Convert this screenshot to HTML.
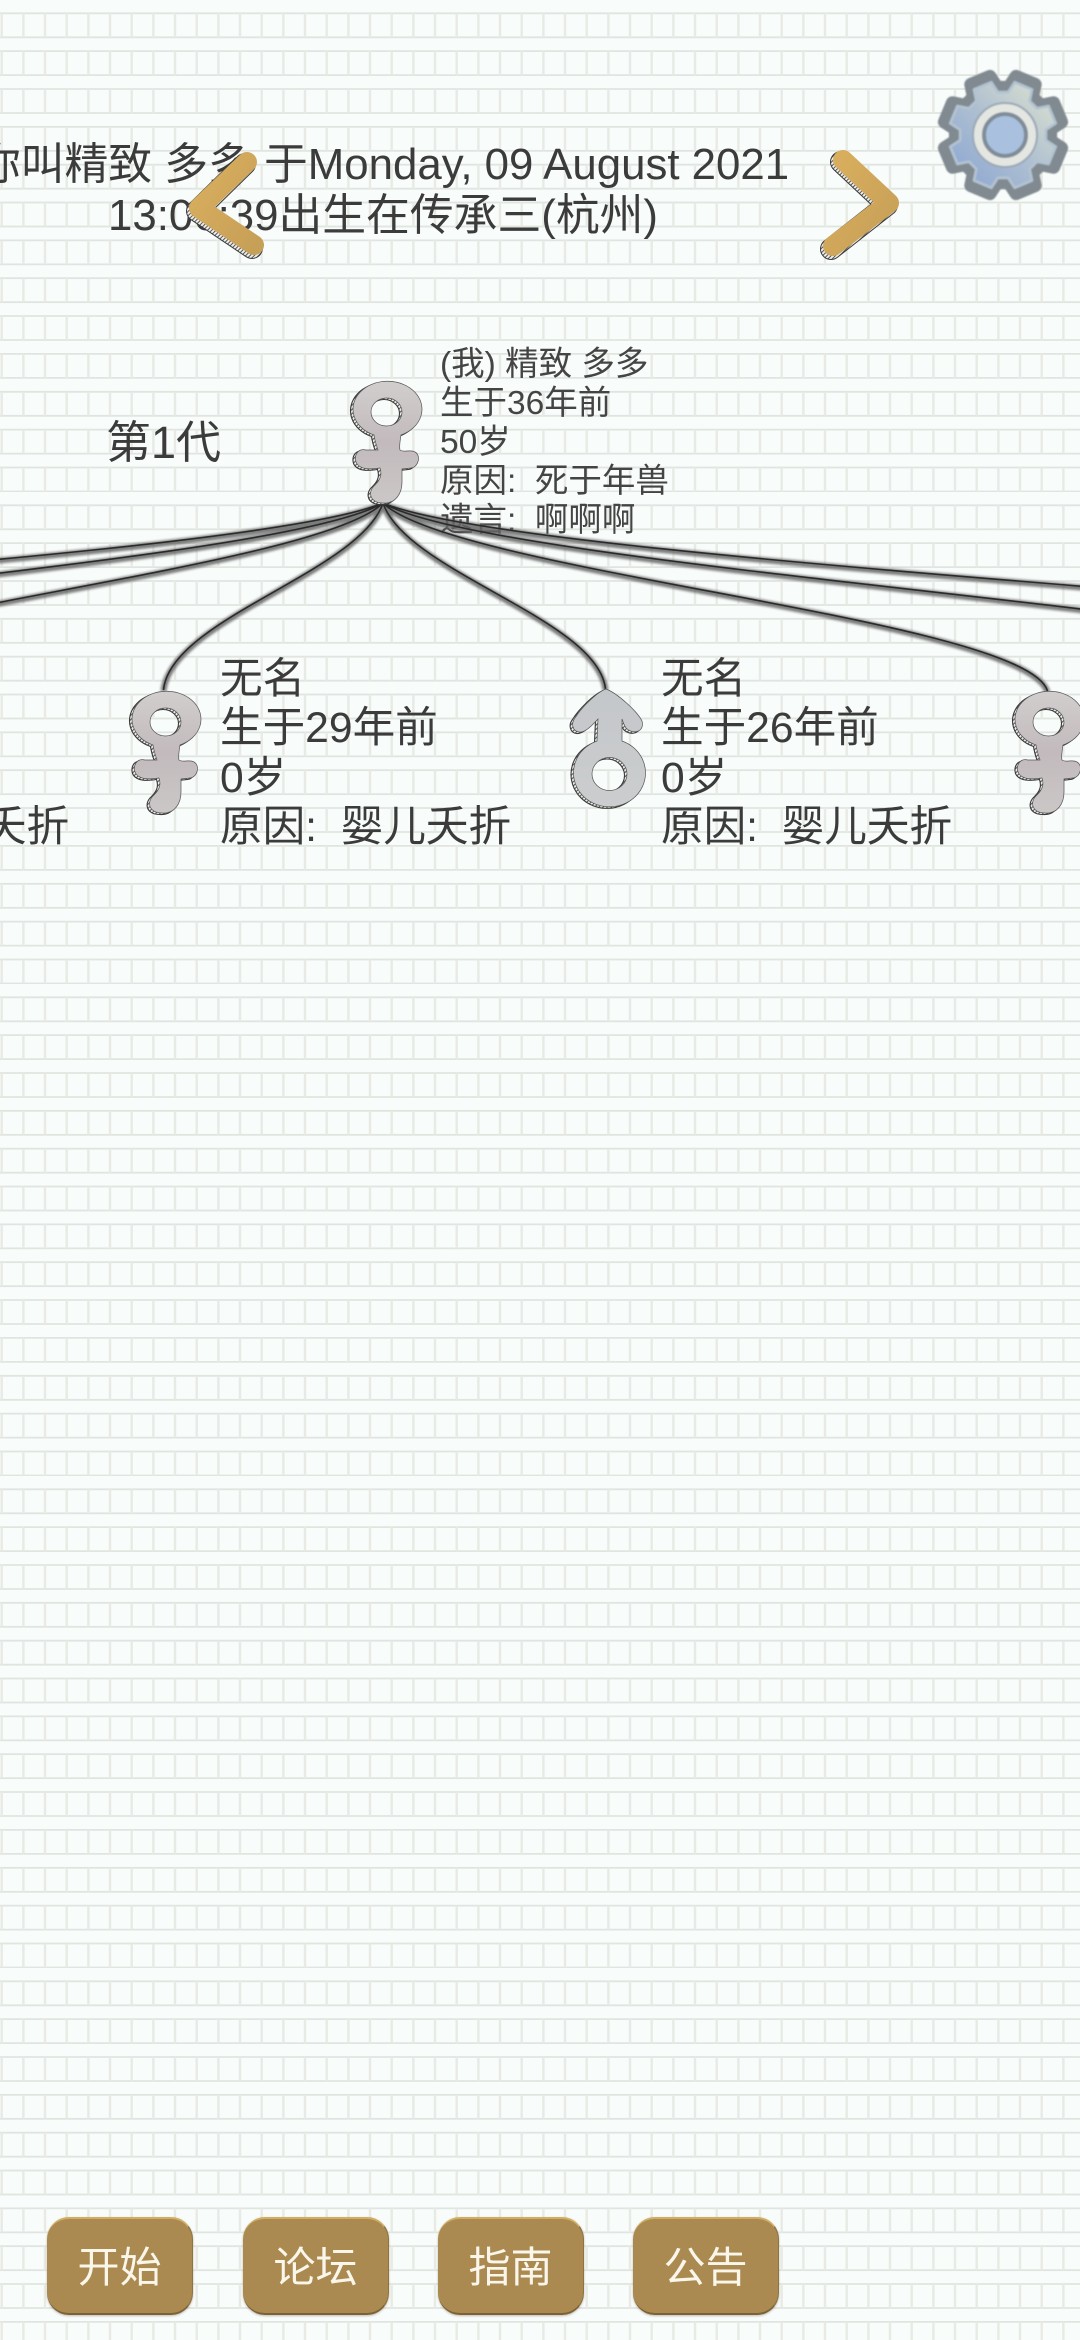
<!DOCTYPE html>
<html lang="zh"><head><meta charset="utf-8"><title>传承</title>
<style>
html,body{margin:0;padding:0;background:#f8fcfb}
#p{position:relative;width:1080px;height:2340px;overflow:hidden;background:#f8fcfb;font-family:"Liberation Sans","Noto Sans CJK SC",sans-serif;color:#3b3b3b}
svg.l{position:absolute;left:0;top:0}
.t{position:absolute;white-space:pre}
.h{left:-117px;width:1000px;text-align:center;font-size:43.8px;line-height:51px;top:139px}
.n{font-size:42.6px;line-height:49.3px;top:655px}
.r{font-size:33.5px;line-height:39px;left:440px;top:345px;color:#444}
.b{position:absolute;top:2217px;width:146px;height:98px;box-sizing:border-box;border-radius:22px;background:#aa8a51;border-top:2px solid #d2ae62;border-bottom:2px solid #7c6236;border-right:1px solid #8f7440;color:#faf6ea;font-size:42px;line-height:97px;text-align:center;box-shadow:0 1px 2px rgba(90,70,40,.35)}
</style></head><body><div id="p">
<svg class="l" width="1080" height="2340"><defs>
<g id="row"><path d="M0 0H65M0 24H65" stroke="#e1e5df" stroke-width="1.8" fill="none"/><path d="M1.7 0V24M23.4 0V24M45 0V24" stroke="#e8eae4" stroke-width="2.4" fill="none"/></g>
<pattern id="g" patternUnits="userSpaceOnUse" width="65" height="492">
<use href="#row" y="13.3"/><use href="#row" y="51.1"/><use href="#row" y="89"/><use href="#row" y="126.8"/><use href="#row" y="164.7"/><use href="#row" y="202.5"/><use href="#row" y="240.4"/><use href="#row" y="278.2"/><use href="#row" y="316"/><use href="#row" y="353.9"/><use href="#row" y="391.8"/><use href="#row" y="429.6"/><use href="#row" y="467.5"/>
</pattern></defs><rect width="1080" height="2340" fill="url(#g)"/></svg>
<div class="t h">你叫精致 多多 于Monday, 09 August 2021
13:06:39出生在传承三(杭州)</div>
<div class="t" style="left:106px;top:417px;font-size:45px;line-height:52px">第1代</div>
<div class="t r">(我) 精致 多多
生于36年前
50岁
原因:  死于年兽
遗言:  啊啊啊</div>
<div class="t n" style="left:-222px">无名
生于30年前
0岁
原因:  婴儿夭折</div>
<div class="t n" style="left:220px">无名
生于29年前
0岁
原因:  婴儿夭折</div>
<div class="t n" style="left:661px">无名
生于26年前
0岁
原因:  婴儿夭折</div>
<svg class="l" width="1080" height="2340">
<defs>
<filter id="bl" x="-20%" y="-20%" width="140%" height="140%"><feGaussianBlur stdDeviation="1.4"/></filter>
<filter id="sf" x="-10%" y="-10%" width="120%" height="120%"><feGaussianBlur stdDeviation=".7"/></filter>
<pattern id="hat" patternUnits="userSpaceOnUse" width="3" height="3" patternTransform="rotate(45)"><rect width="3" height="3" fill="#ececea"/><rect width="1" height="3" fill="#555"/></pattern>
<linearGradient id="fg" x1="0" y1="0" x2="0" y2="1"><stop offset="0" stop-color="#d2cece"/><stop offset=".5" stop-color="#c2babc"/><stop offset="1" stop-color="#cbc7c7"/></linearGradient>
<linearGradient id="mg" x1="0" y1="0" x2="0" y2="1"><stop offset="0" stop-color="#c4c7ca"/><stop offset="1" stop-color="#cbcdce"/></linearGradient>
<linearGradient id="arr" x1="0" y1="0" x2="1" y2="1"><stop offset="0" stop-color="#d9ae5e"/><stop offset="1" stop-color="#c7a057"/></linearGradient>
<linearGradient id="gr" x1="0.1" y1="0.9" x2="0.9" y2="0.1"><stop offset="0" stop-color="#8fa9d2"/><stop offset=".5" stop-color="#aebfd0"/><stop offset="1" stop-color="#d6ddcf"/></linearGradient>
<path id="fem" fill-rule="evenodd" d="M24,53 C25,60 27,65 28,68 L16,68 C8,66 4,73 6,80 C9,87 18,88 30,86 C32,92 31,97 25,103 C17,110 20,121 33,121 C46,122 52,111 52,100 L52,87 L61,86 C69,85 71,73 65,70 C60,67 54,71 50,68 C49,65 50,59 51,53 A34.5,28 0 1 0 24,53 Z M52,30 a15.5,14 0 1 0 -31,0 a15.5,14 0 1 0 31,0 Z"/>
<path id="mal" fill-rule="evenodd" d="M33,0 C44,4 64,22 69,32 C72,43 60,46 53,39 C51,36 50,33 49,30 L49,52 A36,34 0 1 1 24,52 L25,30 C21,34 13,44 6,43 C-1,42 -2,34 2,29 C8,19 24,3 33,0 Z M54,85 a17.5,16.5 0 1 0 -35,0 a17.5,16.5 0 1 0 35,0 Z"/>
<g id="F"><use href="#fem" transform="translate(-2.5,1.5)" fill="url(#hat)" stroke="#3a3a3a" stroke-width="1.1"/><use href="#fem" fill="url(#fg)" stroke="#555" stroke-width=".7"/></g>
<g id="M"><use href="#mal" transform="translate(-2.5,1.5)" fill="url(#hat)" stroke="#3a3a3a" stroke-width="1.1"/><use href="#mal" fill="url(#mg)" stroke="#555" stroke-width=".7"/></g>
<g id="links" fill="none">
<path d="M383,503 C360,572 170,619 163.5,690"/>
<path d="M383,503 C406,572 598,619 605.5,689"/>
<path d="M383,503 C453,572 1027,619 1047.5,691"/>
<path d="M383,503 C499,572 1456,619 1489.5,691"/>
<path d="M383,503 C546,572 1881,619 1931.5,691"/>
<path d="M383,503 C313,572 -259,619 -278.5,691"/>
<path d="M383,503 C267,572 -680,619 -720.5,691"/>
<path d="M383,503 C220,572 -1110,619 -1162.5,691"/>
</g>
<polygon id="gp" points="47.6,5.8 58.6,13 50.6,32.2 37.8,29.6 29.6,37.8 32.2,50.6 13,58.6 5.8,47.6 -5.8,47.6 -13,58.6 -32.2,50.6 -29.6,37.8 -37.8,29.6 -50.6,32.2 -58.6,13 -47.6,5.8 -47.6,-5.8 -58.6,-13 -50.6,-32.2 -37.8,-29.6 -29.6,-37.8 -32.2,-50.6 -13,-58.6 -5.8,-47.6 5.8,-47.6 13,-58.6 32.2,-50.6 29.6,-37.8 37.8,-29.6 50.6,-32.2 58.6,-13 47.6,-5.8"/>
</defs>
<g transform="translate(0,1.2)"><use href="#links" stroke="#666" stroke-width="6" opacity=".85" filter="url(#bl)"/></g>
<use href="#links" stroke="#2a2a2a" stroke-width="1.6"/>
<use href="#F" x="350" y="382"/>
<use href="#F" x="129" y="692"/>
<use href="#M" x="573" y="689"/>
<use href="#F" x="1012" y="692"/>
<g fill="none" stroke-linecap="round" stroke-linejoin="round">
<polyline points="245,164 197,211 252,248" stroke="#3a3a3a" stroke-width="22"/>
<polyline points="245,164 197,211 252,248" stroke="url(#hat)" stroke-width="20"/>
<polyline points="247,162 199,208 254,245" stroke="url(#arr)" stroke-width="20"/>
<polyline points="841,162 887,205 831,249" stroke="#3a3a3a" stroke-width="22"/>
<polyline points="841,162 887,205 831,249" stroke="url(#hat)" stroke-width="20"/>
<polyline points="843,160 889,203 833,246" stroke="url(#arr)" stroke-width="20"/>
</g>
<g transform="translate(1003,135)" filter="url(#sf)">
<use href="#gp" fill="#808a90" stroke="#808a90" stroke-width="13" stroke-linejoin="round"/>
<g transform="scale(.9)"><use href="#gp" fill="url(#gr)" stroke="#b3c3d2" stroke-width="3" stroke-linejoin="round"/></g>
<circle cx="2" cy="0" r="32" fill="#e4e6e2" stroke="#9aa8b6" stroke-width="2"/>
<circle cx="2" cy="0" r="21" fill="#a9c1de" stroke="#7f8c98" stroke-width="4"/>
</g>
</svg>
<div class="b" style="left:47px">开始</div>
<div class="b" style="left:243px">论坛</div>
<div class="b" style="left:438px">指南</div>
<div class="b" style="left:633px">公告</div>
</div></body></html>
